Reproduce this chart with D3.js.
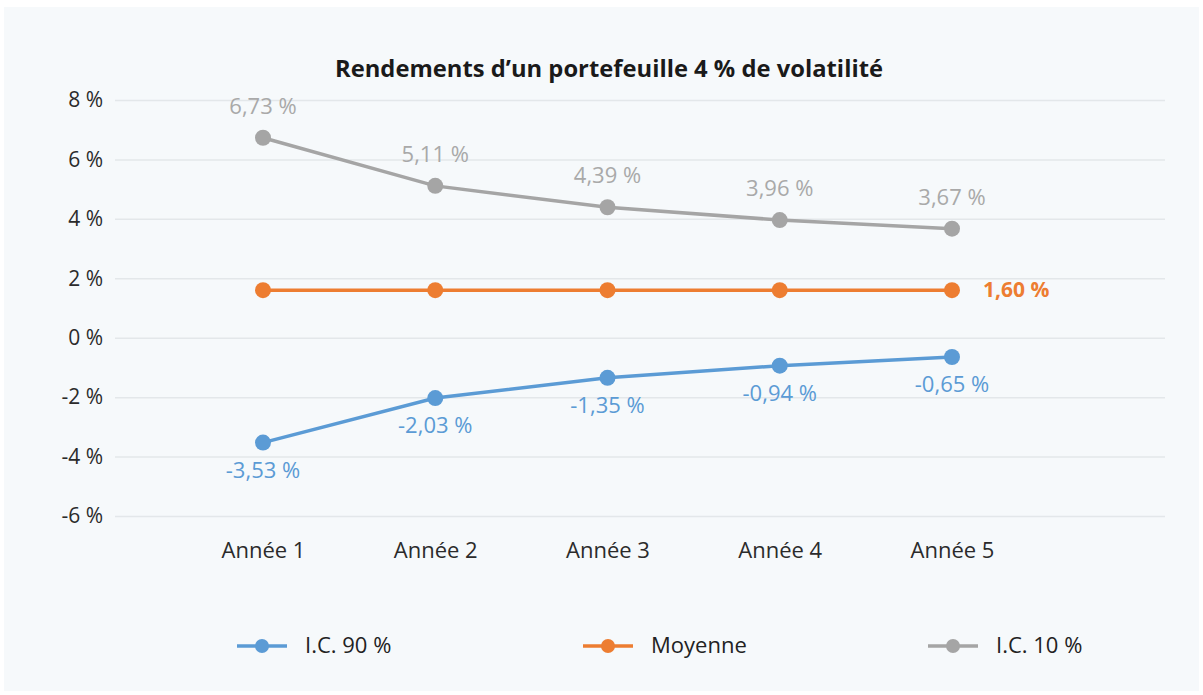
<!DOCTYPE html>
<html>
<head>
<meta charset="utf-8">
<script src="https://cdn.jsdelivr.net/npm/d3@7/dist/d3.min.js"></script>
<style>
  html, body { margin: 0; padding: 0; background: #ffffff; }
  svg { display: block; }
  text { font-family: "Open Sans", "Noto Sans", sans-serif; }
</style>
</head>
<body>
<svg id="chart" width="1203" height="695"></svg>
<script>
// Returns of a 4 % volatility portfolio over five years
const categories = ["Année 1", "Année 2", "Année 3", "Année 4", "Année 5"];
const ic90 = [-3.53, -2.03, -1.35, -0.94, -0.65];
const moyenne = [1.60, 1.60, 1.60, 1.60, 1.60];
const ic10 = [6.73, 5.11, 4.39, 3.96, 3.67];
const yTicks = [-6, -4, -2, 0, 2, 4, 6, 8];
const seriesNames = ["I.C. 90 %", "Moyenne", "I.C. 10 %"];

const fmt = v => v.toFixed(2).replace(".", ",") + " %";

const svg = d3.select("#chart");

// panel background
svg.append("rect").attr("x", 4).attr("y", 7).attr("width", 1195).attr("height", 684)
  .attr("fill", "#f6f9fb");

const x = d3.scalePoint().domain(categories).range([263, 952]);
const y = d3.scaleLinear().domain([-6, 8]).range([516, 100]);

// gridlines and value axis
const yAxis = d3.axisLeft(y).tickValues(yTicks).tickSize(0).tickPadding(12)
  .tickFormat(d => d + " %");
const gy = svg.append("g").attr("transform", "translate(115,0)").call(yAxis);
gy.select(".domain").remove();
gy.selectAll(".tick line").clone()
  .attr("x2", 1050).attr("stroke", "#e3e7ea").attr("stroke-width", 1.5);
gy.selectAll(".tick text").attr("font-size", 21).attr("fill", "#2b2b2b");

// category axis
const xAxis = d3.axisBottom(x).tickSize(0).tickPadding(0);
const gx = svg.append("g").attr("transform", "translate(0,542)").call(xAxis);
gx.select(".domain").remove();
gx.selectAll(".tick text").attr("font-size", 22).attr("fill", "#2b2b2b");

// title
svg.append("text").attr("x", 609).attr("y", 77).attr("text-anchor", "middle")
  .attr("font-size", 23).attr("font-weight", "bold").attr("fill", "#1a1a1a")
  .attr("textLength", 548).attr("lengthAdjust", "spacingAndGlyphs")
  .text("Rendements d\u2019un portefeuille 4 % de volatilité");

const series = [
  { name: seriesNames[2], values: ic10, color: "#a5a5a5", label: "#a9a9a9", pos: "above" },
  { name: seriesNames[1], values: moyenne, color: "#ed7d31", label: "#ed7d31", pos: "lastRight" },
  { name: seriesNames[0], values: ic90, color: "#5b9bd5", label: "#5b9bd5", pos: "below" }
];

const line = d3.line().x((d, i) => x(categories[i])).y(d => y(d));

series.forEach(s => {
  const g = svg.append("g");
  g.append("path").datum(s.values).attr("d", line)
    .attr("fill", "none").attr("stroke", s.color).attr("stroke-width", 3.5);
  g.selectAll("circle").data(s.values).join("circle")
    .attr("cx", (d, i) => x(categories[i])).attr("cy", d => y(d))
    .attr("r", 8).attr("fill", s.color);
  if (s.pos === "lastRight") {
    const last = s.values.length - 1;
    g.append("text").attr("x", x(categories[last]) + 31).attr("y", y(s.values[last]) + 7)
      .attr("font-size", 21).attr("font-weight", "bold").attr("fill", s.label)
      .text(fmt(s.values[last]));
  } else {
    g.selectAll("text").data(s.values).join("text")
      .attr("x", (d, i) => x(categories[i]))
      .attr("y", d => s.pos === "above" ? y(d) - 24 : y(d) + 35)
      .attr("text-anchor", "middle").attr("font-size", 22).attr("fill", s.label)
      .text(d => fmt(d));
  }
});

// legend
const legendItems = [
  { name: seriesNames[0], color: "#5b9bd5", cx: 262 },
  { name: seriesNames[1], color: "#ed7d31", cx: 608 },
  { name: seriesNames[2], color: "#a5a5a5", cx: 953 }
];
const lg = svg.append("g");
legendItems.forEach(it => {
  lg.append("line").attr("x1", it.cx - 25).attr("x2", it.cx + 25)
    .attr("y1", 646).attr("y2", 646).attr("stroke", it.color).attr("stroke-width", 3.5);
  lg.append("circle").attr("cx", it.cx).attr("cy", 646).attr("r", 7).attr("fill", it.color);
  lg.append("text").attr("x", it.cx + 43).attr("y", 653)
    .attr("font-size", 22).attr("fill", "#222").text(it.name);
});
</script>
</body>
</html>
